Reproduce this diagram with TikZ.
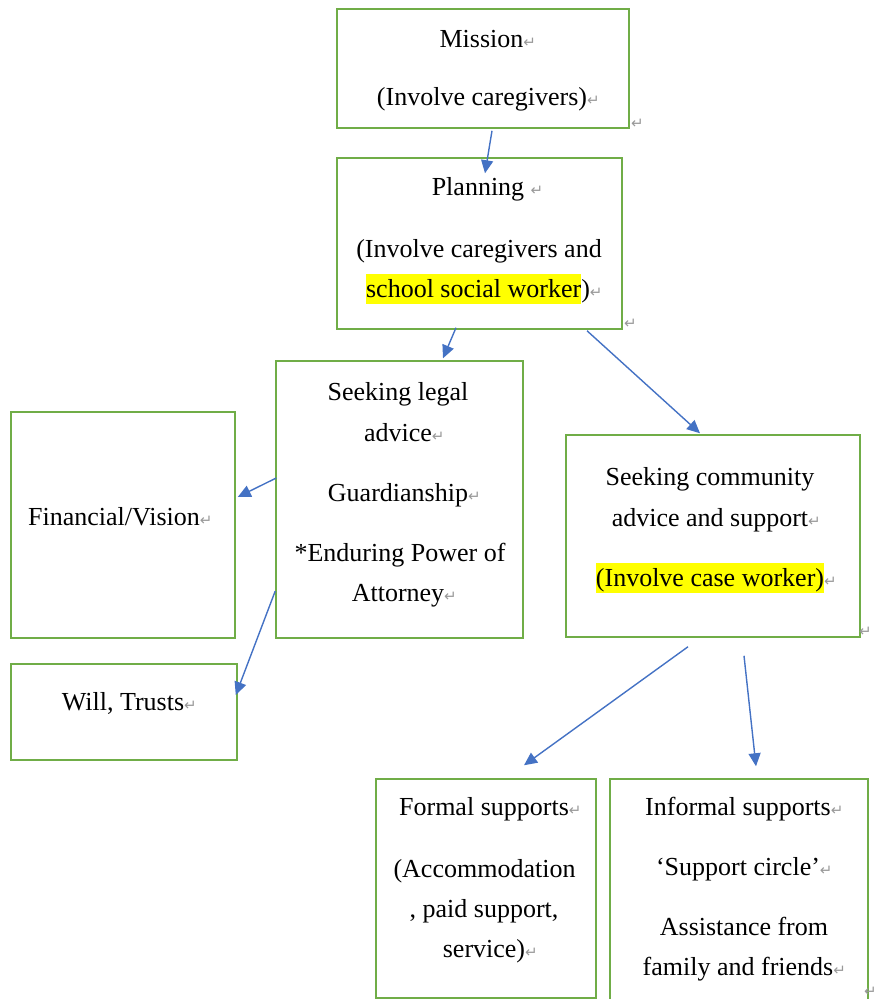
\documentclass[tikz,border=0pt]{standalone}
\usepackage{fontspec}
\setmainfont{Liberation Serif}
\newfontfamily\markfont{DejaVu Sans}
\usetikzlibrary{arrows.meta}
\definecolor{boxgreen}{HTML}{70AD47}
\definecolor{arrowblue}{HTML}{4472C4}
\definecolor{hlyellow}{HTML}{FFFF00}
\newcommand{\pmark}{\rlap{\markfont\fontsize{15}{15}\selectfont\color{black!40}↵}}
\newcommand{\pmarksp}{\rlap{\ \markfont\fontsize{15}{15}\selectfont\color{black!40}↵}}
\newcommand{\hlt}[1]{{\fboxsep=0pt\colorbox{hlyellow}{\rule[-7pt]{0pt}{30pt}#1}}}
\tikzset{
  box/.style={draw=boxgreen, line width=1.5pt, rectangle, inner sep=0pt, anchor=center},
  txt/.style={inner sep=0pt, anchor=base, font=\fontsize{26}{30}\selectfont},
  omark/.style={inner sep=0pt, anchor=base west, font=\markfont\fontsize{15}{15}\selectfont, text=black!40},
  link/.style={draw=arrowblue, line width=1.4pt, -{Triangle[width=12pt,length=13pt]}}
}
\begin{document}
\begin{tikzpicture}[x=1pt,y=-1pt]
\useasboundingbox (0,0) rectangle (878,999);
\clip (0,0) rectangle (878,999);
% boxes
\node[box, minimum width=292pt, minimum height=119pt] (mission) at (483,68.5) {};
\node[box, minimum width=285pt, minimum height=171pt] (planning) at (479.5,243.5) {};
\node[box, minimum width=247pt, minimum height=277pt] (legal) at (399.5,499.5) {};
\node[box, minimum width=224pt, minimum height=226pt] (financial) at (123,525) {};
\node[box, minimum width=226pt, minimum height=96pt] (will) at (124,712) {};
\node[box, minimum width=294pt, minimum height=202pt] (community) at (713,536) {};
\node[box, minimum width=220pt, minimum height=219pt] (formal) at (486,888.5) {};
\node[box, minimum width=258pt, minimum height=231pt] (informal) at (739,894.5) {};
% texts
\node[txt] (m1) at (481.5,47) {Mission\pmark};
\node[txt] (m2) at (482,105) {(Involve caregivers)\pmark};
\node[txt] (p1) at (478,195) {Planning\pmarksp};
\node[txt] (p2) at (479,257) {(Involve caregivers and};
\node[txt] (p3) at (478,297) {\hlt{school social worker})\pmark};
\node[txt] (l1) at (398,400) {Seeking legal};
\node[txt] (l2) at (398,441) {advice\pmark};
\node[txt] (l3) at (398,501) {Guardianship\pmark};
\node[txt] (l4) at (400,561) {*Enduring Power of};
\node[txt] (l5) at (398,601) {Attorney\pmark};
\node[txt] (f1) at (114,525) {Financial/Vision\pmark};
\node[txt] (w1) at (123,710) {Will, Trusts\pmark};
\node[txt] (c1) at (710,485) {Seeking community};
\node[txt] (c2) at (710,526) {advice and support\pmark};
\node[txt] (c3) at (710,586) {\hlt{(Involve case worker)}\pmark};
\node[txt] (fo1) at (484,815) {Formal supports\pmark};
\node[txt] (fo2) at (484.5,877) {(Accommodation};
\node[txt] (fo3) at (484,917) {, paid support,};
\node[txt] (fo4) at (484,957) {service)\pmark};
\node[txt] (i1) at (738,815) {Informal supports\pmark};
\node[txt] (i2) at (738,875) {‘Support circle’\pmark};
\node[txt] (i3) at (744,935) {Assistance from};
\node[txt] (i4) at (738,975) {family and friends\pmark};
% outside paragraph marks
\node[omark] (om1) at (631,128) {↵};
\node[omark] (om2) at (624,328) {↵};
\node[omark] (om3) at (859,636) {↵};
\node[omark] (om4) at (864,996) {↵};
% connectors
\draw[link] ([xshift=9pt,yshift=-2pt]mission.south) -- ([xshift=5.5pt,yshift=-16pt]planning.north);
\draw[link] ([xshift=-23.5pt,yshift=2pt]planning.south) -- ([xshift=43.5pt,yshift=2pt]legal.north);
\draw[link] ([xshift=107.5pt,yshift=-1pt]planning.south) -- ([xshift=-13pt,yshift=1pt]community.north);
\draw[link] ([xshift=1pt,yshift=21.5pt]legal.west) -- ([xshift=2pt,yshift=28pt]financial.east);
\draw[link] ([yshift=-91.5pt]legal.west) -- ([xshift=-2pt,yshift=17pt]will.east);
\draw[link] ([xshift=-25pt,yshift=-9pt]community.south) -- ([xshift=38pt,yshift=13pt]formal.north);
\draw[link] ([xshift=31pt,yshift=-18pt]community.south) -- ([xshift=17pt,yshift=12pt]informal.north);
\end{tikzpicture}
\end{document}
